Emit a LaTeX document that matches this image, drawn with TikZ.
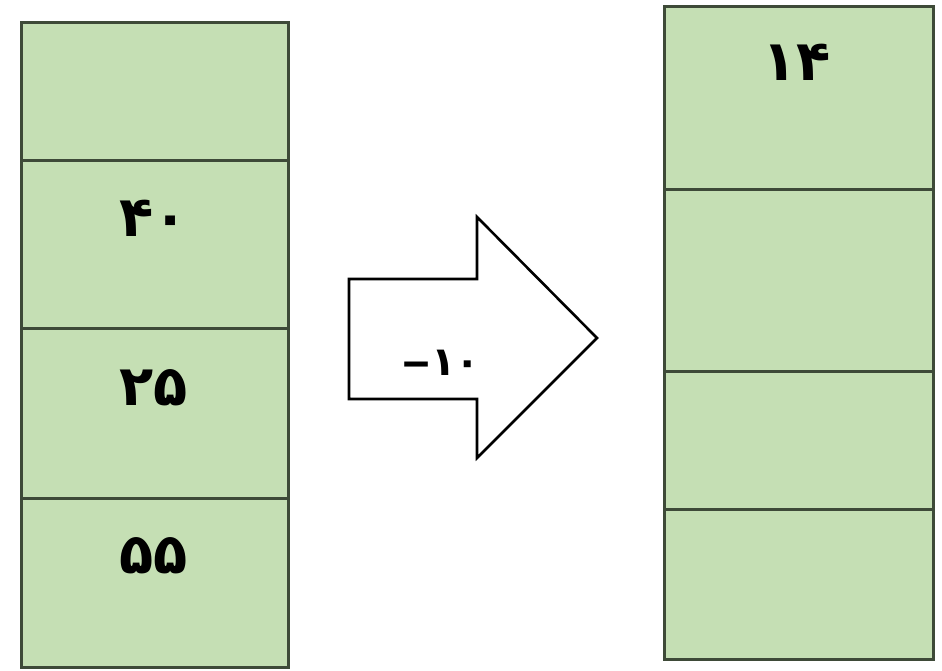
\documentclass[tikz,border=0pt]{standalone}
\usepackage{fontspec}
\newfontfamily\pfont[Script=Arabic]{DejaVu Sans}
\newfontfamily\dashfont{DejaVu Sans}
\definecolor{cellgreen}{HTML}{C5DFB4}
\definecolor{celledge}{HTML}{3E4A38}
\begin{document}
\begin{tikzpicture}[x=1pt,y=-1pt,
  cell/.style={draw=celledge,fill=cellgreen,line width=2.6pt,inner sep=0pt,anchor=north west},
  num/.style={font=\pfont\bfseries\fontsize{56}{56}\selectfont,inner sep=0pt,text=black},
  arrowlbl/.style={font=\bfseries\fontsize{40}{40}\selectfont,inner sep=0pt,text=black}]
\useasboundingbox[fill=white] (0,0) rectangle (942,671);
% left column
\node[cell,minimum width=267pt,minimum height=138pt] (l1) at (20,21) {};
\node[cell,minimum width=267pt,minimum height=168pt] (l2) at (20,159) {};
\node[cell,minimum width=267pt,minimum height=170pt] (l3) at (20,327) {};
\node[cell,minimum width=267pt,minimum height=169pt] (l4) at (20,497) {};
% right column
\node[cell,minimum width=269pt,minimum height=183pt] (r1) at (663,5) {};
\node[cell,minimum width=269pt,minimum height=182pt] (r2) at (663,188) {};
\node[cell,minimum width=269pt,minimum height=138pt] (r3) at (663,370) {};
\node[cell,minimum width=269pt,minimum height=150pt] (r4) at (663,508) {};
% numbers
\node[num] (t40) at (154,218) {۴۰};
\node[num] (t25) at (154,388) {۲۵};
\node[num] (t55) at (154,556) {۵۵};
\node[num] (t14) at (797,62) {۱۴};
% arrow
\draw[line width=2.6pt,fill=white,line join=miter] (349,279) coordinate (a1) -- (477,279) -- (477,217) -- (597,338) coordinate (tip) -- (477,458) -- (477,399) -- (349,399) -- cycle;
\node[arrowlbl] (minus) at (441,363) {{\dashfont\bfseries\scalebox{1.5}[1]{–}}{\pfont\bfseries ۱۰}};
\end{tikzpicture}
\end{document}
